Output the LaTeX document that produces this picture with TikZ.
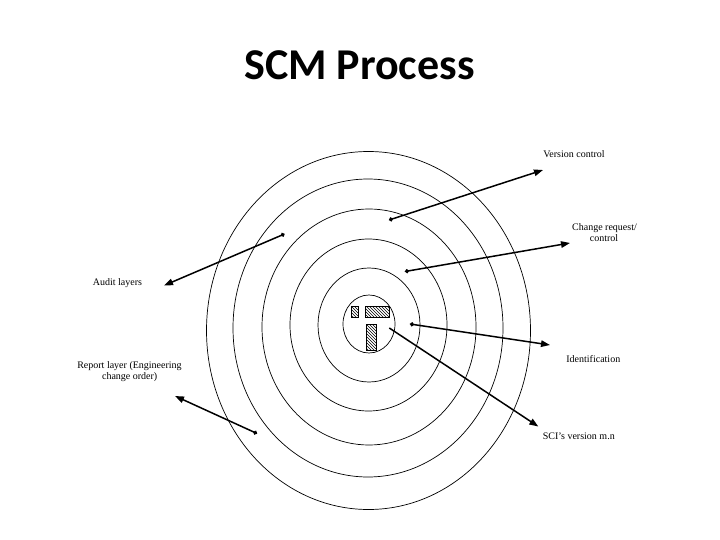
\documentclass[tikz,border=0pt]{standalone}
\usepackage{fontspec}
\setmainfont{Liberation Serif}
\newfontfamily\titlefont{Carlito}
\usetikzlibrary{arrows.meta,patterns}
\begin{document}
\begin{tikzpicture}[x=1pt,y=-1pt,
  ring/.style={draw=black,line width=0.7pt},
  conn/.style={draw=black,line width=1.5pt,-{Triangle[length=9pt,width=6.5pt]}},
  dotconn/.style={conn,{Circle[length=4pt]}-{Triangle[length=9pt,width=6.5pt]}},
  lbl/.style={font=\fontsize{10}{11}\selectfont,anchor=base,inner sep=0pt,align=center},
  hatchbox/.style={draw=black,line width=0.6pt,pattern=north west lines}]
\useasboundingbox (0,0) rectangle (720,540);
\fill[white] (0,0) rectangle (720,540);
% title
\node[anchor=base,inner sep=0pt,font=\titlefont\bfseries\fontsize{44}{48}\selectfont] (title) at (359.5,80) {SCM Process};
% concentric rings
\draw[ring] (368.5,330.5) ellipse [x radius=162, y radius=179];
\draw[ring] (368,328) ellipse [x radius=135, y radius=149];
\draw[ring] (369,327) ellipse [x radius=107, y radius=118];
\draw[ring] (368.5,325) ellipse [x radius=78.5, y radius=86];
\draw[ring] (369,325) ellipse [x radius=51, y radius=57];
\draw[ring] (369,324) ellipse [x radius=26, y radius=29];
% hatched boxes
\draw[hatchbox] (351.7,306) rectangle (358.3,317);
\draw[hatchbox] (365.7,306) rectangle (389.3,317);
\draw[hatchbox] (366.7,324) rectangle (376,350);
% connector end points
\coordinate (vcA) at (389,220);   \coordinate (vcB) at (543,170);
\coordinate (crA) at (405,271.5); \coordinate (crB) at (570,243);
\coordinate (auA) at (284.5,234); \coordinate (auB) at (164,285.5);
\coordinate (rpA) at (257,433.5); \coordinate (rpB) at (175,396);
\coordinate (idA) at (410,324);   \coordinate (idB) at (550,345);
\coordinate (sciA) at (389.3,328); \coordinate (sciB) at (538.3,426.5);
\draw[dotconn] (vcA) -- (vcB);
\draw[dotconn] (crA) -- (crB);
\draw[dotconn] (auA) -- (auB);
\draw[dotconn] (rpA) -- (rpB);
\draw[dotconn] (idA) -- (idB);
\draw[conn] (sciA) -- (sciB);
% labels
\node[lbl] (vc) at (574,157.5) {Version control};
\node[lbl] (cr1) at (604.5,230) {Change request/};
\node[lbl] (cr2) at (604,241.5) {control};
\node[lbl] (au) at (117.5,285) {Audit layers};
\node[lbl] (rp1) at (129.5,368) {Report layer (Engineering};
\node[lbl] (rp2) at (129.7,379) {change order)};
\node[lbl] (id) at (593.3,362) {Identification};
\node[lbl] (sci) at (578.8,439) {SCI's version m.n};
\end{tikzpicture}
\end{document}
